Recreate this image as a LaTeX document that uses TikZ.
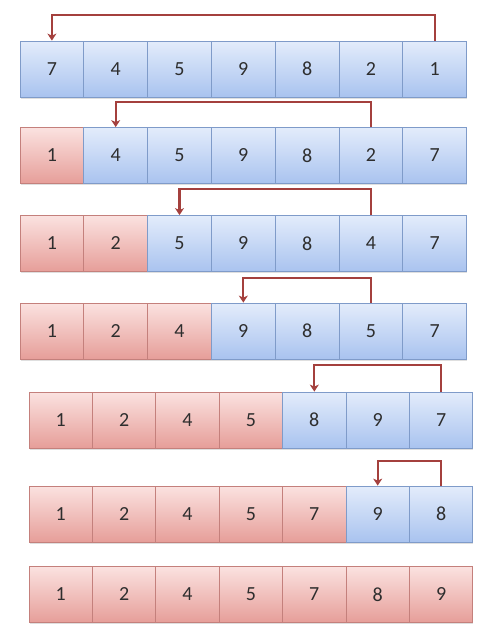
\documentclass[tikz,border=0pt]{standalone}
\usepackage{fontspec}
\setmainfont{Carlito}
\usetikzlibrary{arrows.meta,shadows}
\definecolor{bluetop}{HTML}{E3ECFB}
\definecolor{bluebot}{HTML}{A9C3EF}
\definecolor{blueedge}{HTML}{7F9BC9}
\definecolor{redtop}{HTML}{FBE2E0}
\definecolor{redbot}{HTML}{E69E99}
\definecolor{rededge}{HTML}{C4807C}
\definecolor{arrowc}{HTML}{A4403D}
\definecolor{txt}{HTML}{2E2E2E}
\newcommand\nred{0}
\newcommand\drawcells[6]{%
  \renewcommand\nred{#5}%
  \foreach \v [count=\i] in {#6} {
    \node[cellkind=\i, minimum width=#3pt] (#1c\i) at ({#2+#3*(\i-0.5)},#4) {\v};
  }%
}
\begin{document}
\begin{tikzpicture}[x=1pt,y=-1pt,
  cell/.style={draw, line width=0.8pt, minimum height=56pt, inner sep=0pt,
    font=\fontsize{20}{20}\selectfont, text=txt,
    drop shadow={shadow xshift=0.6pt, shadow yshift=-1.6pt, opacity=0.25}},
  bluecell/.style={cell, draw=blueedge, top color=bluetop, bottom color=bluebot},
  redcell/.style={cell, draw=rededge, top color=redtop, bottom color=redbot},
  cellkind/.code={\ifnum#1>\nred\relax\pgfkeysalso{bluecell}\else\pgfkeysalso{redcell}\fi},
  arr/.style={draw=arrowc, line width=2.2pt, -{Stealth[length=7pt,width=9pt,inset=2pt]}}]
\path[use as bounding box] (0,0) rectangle (490,640);

\drawcells{r1}{20}{63.8}{69}{0}{7,4,5,9,8,2,1}
\drawcells{r2}{20}{63.8}{155.5}{1}{1,4,5,9,8,2,7}
\drawcells{r3}{20}{63.8}{243.5}{2}{1,2,5,9,8,4,7}
\drawcells{r4}{20}{63.8}{331}{3}{1,2,4,9,8,5,7}
\drawcells{r5}{29}{63.4}{420}{4}{1,2,4,5,8,9,7}
\drawcells{r6}{29}{63.4}{514}{5}{1,2,4,5,7,9,8}
\drawcells{r7}{29}{63.4}{594.5}{7}{1,2,4,5,7,8,9}

\coordinate (t1) at (0,15);
\coordinate (t2) at (0,102);
\coordinate (t3) at (0,189);
\coordinate (t4) at (0,278);
\coordinate (t5) at (0,365);
\coordinate (t6) at (0,461);

\draw[arr] (r1c7.north) -- (r1c7.north |- t1) -| (r1c1.north);
\draw[arr] (r2c6.north) -- (r2c6.north |- t2) -| (r2c2.north);
\draw[arr] (r3c6.north) -- (r3c6.north |- t3) -| (r3c3.north);
\draw[arr] (r4c6.north) -- (r4c6.north |- t4) -| (r4c4.north);
\draw[arr] (r5c7.north) -- (r5c7.north |- t5) -| (r5c5.north);
\draw[arr] (r6c7.north) -- (r6c7.north |- t6) -| (r6c6.north);
\end{tikzpicture}
\end{document}
